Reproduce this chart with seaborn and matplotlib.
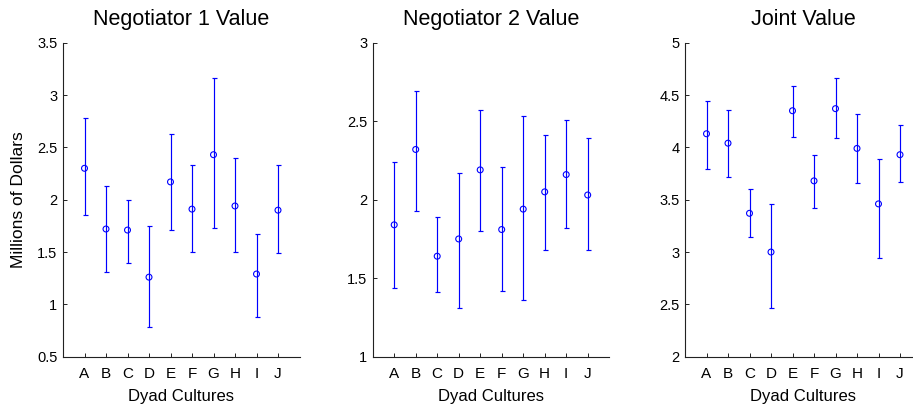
import numpy as np
import pandas as pd
import matplotlib
matplotlib.use("Agg")
import matplotlib.pyplot as plt
import seaborn as sns

categories = ["A", "B", "C", "D", "E", "F", "G", "H", "I", "J"]

neg1_mean = [2.30, 1.72, 1.71, 1.26, 2.17, 1.91, 2.43, 1.94, 1.29, 1.90]
neg1_low  = [1.85, 1.31, 1.40, 0.78, 1.71, 1.50, 1.73, 1.50, 0.88, 1.49]
neg1_high = [2.78, 2.13, 2.00, 1.75, 2.63, 2.33, 3.16, 2.40, 1.67, 2.33]

neg2_mean = [1.84, 2.32, 1.64, 1.75, 2.19, 1.81, 1.94, 2.05, 2.16, 2.03]
neg2_low  = [1.44, 1.93, 1.41, 1.31, 1.80, 1.42, 1.36, 1.68, 1.82, 1.68]
neg2_high = [2.24, 2.69, 1.89, 2.17, 2.57, 2.21, 2.53, 2.41, 2.51, 2.39]

joint_mean = [4.13, 4.04, 3.37, 3.00, 4.35, 3.68, 4.37, 3.99, 3.46, 3.93]
joint_low  = [3.79, 3.72, 3.14, 2.47, 4.10, 3.42, 4.09, 3.66, 2.94, 3.67]
joint_high = [4.44, 4.36, 3.60, 3.46, 4.59, 3.93, 4.66, 4.32, 3.89, 4.21]

titles = ["Negotiator 1 Value", "Negotiator 2 Value", "Joint Value"]
ylims = [(0.5, 3.5), (1.0, 3.0), (2.0, 5.0)]
yticks = [[0.5, 1, 1.5, 2, 2.5, 3, 3.5], [1, 1.5, 2, 2.5, 3], [2, 2.5, 3, 3.5, 4, 4.5, 5]]
yticklabels = [["0.5", "1", "1.5", "2", "2.5", "3", "3.5"],
               ["1", "1.5", "2", "2.5", "3"],
               ["2", "2.5", "3", "3.5", "4", "4.5", "5"]]

series = [(neg1_mean, neg1_low, neg1_high),
          (neg2_mean, neg2_low, neg2_high),
          (joint_mean, joint_low, joint_high)]

sns.set_style("ticks")
plt.rcParams["font.family"] = ["Liberation Sans", "DejaVu Sans"]
plt.rcParams["text.color"] = "black"
plt.rcParams["axes.labelcolor"] = "black"
plt.rcParams["xtick.color"] = "black"
plt.rcParams["ytick.color"] = "black"

W, H = 913, 408
fig = plt.figure(figsize=(W / 100, H / 100), dpi=100)

lefts = [63, 372.7, 685]
axw = 236.5
bottom_px, top_px = 356.7, 42.7

for i in range(3):
    ax = fig.add_axes([lefts[i] / W, (H - bottom_px) / H, axw / W, (bottom_px - top_px) / H])
    mean, low, high = series[i]
    df = pd.DataFrame({"cat": categories, "mean": mean, "low": low, "high": high})
    x = np.arange(1, len(categories) + 1)
    yerr = np.vstack([df["mean"] - df["low"], df["high"] - df["mean"]])
    ax.errorbar(x, df["mean"], yerr=yerr, fmt="none", ecolor="#0000ff",
                elinewidth=0.85, capsize=1.8, capthick=0.85)
    sns.scatterplot(x=x, y=df["mean"], ax=ax, marker="o", s=18,
                    facecolors="none", edgecolor="#0000ff", linewidth=0.8, zorder=3)
    ax.set_xlim(0, 11)
    ax.set_ylim(*ylims[i])
    ax.set_xticks(x)
    ax.set_xticklabels(categories, fontsize=11)
    ax.set_yticks(yticks[i])
    ax.set_yticklabels(yticklabels[i], fontsize=10.5)
    ax.tick_params(direction="in", length=3, width=0.7, color="#222222", pad=4)
    ax.tick_params(axis="x", pad=7.5)
    sns.despine(ax=ax)
    for s in ["left", "bottom"]:
        ax.spines[s].set_linewidth(0.8)
        ax.spines[s].set_color("#222222")
    ax.set_title(titles[i], fontsize=15.5, pad=12.5)
    ax.set_xlabel("Dyad Cultures", fontsize=12, labelpad=6)
    if i == 0:
        ax.set_ylabel("Millions of Dollars", fontsize=12.5, labelpad=8)
    else:
        ax.set_ylabel("")

fig.savefig("out.png", dpi=100)
